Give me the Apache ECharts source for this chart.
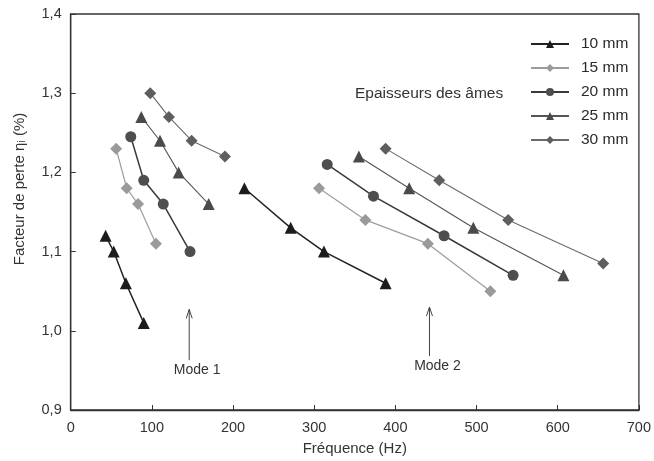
<!DOCTYPE html>
<html>
<head>
<meta charset="utf-8">
<script src="https://cdn.jsdelivr.net/npm/echarts@6/dist/echarts.min.js"></script>
<style>
  html, body { margin: 0; padding: 0; background: #fff; }
  #chart { width: 654px; height: 461px; }
</style>
</head>
<body>
<div id="chart"></div>
<script>
// Loss factor vs frequency for five core thicknesses; null splits mode 1 from mode 2.
const thicknessNames = ['10 mm', '15 mm', '20 mm', '25 mm', '30 mm'];

const freq10 = [43, 53, 68, 90, null, 214, 271, 312, 388];
const loss10 = [1.12, 1.10, 1.06, 1.01, null, 1.18, 1.13, 1.10, 1.06];

const freq15 = [56, 69, 83, 105, null, 306, 363, 440, 517];
const loss15 = [1.23, 1.18, 1.16, 1.11, null, 1.18, 1.14, 1.11, 1.05];

const freq20 = [74, 90, 114, 147, null, 316, 373, 460, 545];
const loss20 = [1.245, 1.19, 1.16, 1.10, null, 1.21, 1.17, 1.12, 1.07];

const freq25 = [87, 110, 133, 170, null, 355, 417, 496, 607];
const loss25 = [1.27, 1.24, 1.20, 1.16, null, 1.22, 1.18, 1.13, 1.07];

const freq30 = [98, 121, 149, 190, null, 388, 454, 539, 656];
const loss30 = [1.30, 1.27, 1.24, 1.22, null, 1.23, 1.19, 1.14, 1.085];

// Mode annotations: arrow foot/tip in data units, label under the arrow
const modeLabels = ['Mode 1', 'Mode 2'];
const modeFreq = [146, 442];
const modeArrowFrom = [0.963, 0.968];
const modeArrowTo = [1.027, 1.030];

const xTicks = [0, 100, 200, 300, 400, 500, 600, 700];

function pairs(xs, ys) {
  return xs.map((x, i) => (x === null ? [null, null] : [x, ys[i]]));
}

const styles = [
  { symbol: 'triangle', color: '#1c1c1c', line: '#222', width: 1.5 },
  { symbol: 'diamond', color: '#9a9a9a', line: '#9c9c9c', width: 1.2 },
  { symbol: 'circle', color: '#4e4e4e', line: '#3a3a3a', width: 1.5 },
  { symbol: 'triangle', color: '#4a4a4a', line: '#555', width: 1.1 },
  { symbol: 'diamond', color: '#5e5e5e', line: '#6a6a6a', width: 1.1 }
];

const seriesData = [
  pairs(freq10, loss10),
  pairs(freq15, loss15),
  pairs(freq20, loss20),
  pairs(freq25, loss25),
  pairs(freq30, loss30)
];

const chart = echarts.init(document.getElementById('chart'), null, { renderer: 'canvas' });

const FONT = 'Liberation Sans, Arial, sans-serif';
const fmt = v => v.toFixed(1).replace('.', ',');

chart.setOption({
  animation: false,
  backgroundColor: '#fff',
  textStyle: { fontFamily: FONT },
  title: {
    text: 'Epaisseurs des âmes',
    left: 350, top: 81,
    textStyle: { fontSize: 15.5, fontWeight: 'normal', color: '#333', fontFamily: FONT }
  },
  legend: {
    orient: 'vertical',
    left: 525, top: 31,
    itemWidth: 38, itemHeight: 10, itemGap: 8,
    data: thicknessNames,
    textStyle: { fontSize: 15.5, color: '#2a2a2a', fontFamily: FONT, padding: [0, 0, 0, 7] }
  },
  grid: {
    left: 70.7, right: 12.5, top: 14, bottom: 48.3,
    show: true, borderColor: '#333', borderWidth: 1.3, backgroundColor: 'transparent'
  },
  xAxis: {
    type: 'value', min: 0, max: 700, interval: 100,
    name: 'Fréquence (Hz)', nameLocation: 'middle', nameGap: 31,
    nameTextStyle: { fontSize: 15, color: '#333', fontFamily: FONT },
    axisLine: { show: true, lineStyle: { color: '#333', width: 1.3 } },
    axisTick: { show: true, inside: true, length: 5, lineStyle: { color: '#333' } },
    axisLabel: { fontSize: 14.5, color: '#333', margin: 10,
      formatter: v => (xTicks.includes(v) ? String(v) : '') },
    splitLine: { show: false }
  },
  yAxis: {
    type: 'value', min: 0.9, max: 1.4, interval: 0.1,
    axisLine: { show: true, lineStyle: { color: '#333', width: 1.3 } },
    axisTick: { show: true, inside: true, length: 5, lineStyle: { color: '#333' } },
    axisLabel: { fontSize: 14.5, color: '#333', margin: 9, formatter: fmt },
    splitLine: { show: false }
  },
  series: thicknessNames.map((name, i) => ({
    name,
    type: 'line',
    data: seriesData[i],
    connectNulls: false,
    symbol: styles[i].symbol,
    symbolSize: styles[i].symbol === 'circle' ? 11 : 12,
    showAllSymbol: true,
    itemStyle: { color: styles[i].color },
    lineStyle: { color: styles[i].line, width: styles[i].width }
  }))
});

// Draw the mode arrows, their labels and the rotated y-axis title
function drawAnnotations() {
  const elements = [];
  modeLabels.forEach((label, i) => {
    const from = chart.convertToPixel({ gridIndex: 0 }, [modeFreq[i], modeArrowFrom[i]]);
    const to = chart.convertToPixel({ gridIndex: 0 }, [modeFreq[i], modeArrowTo[i]]);
    elements.push({
      type: 'line',
      shape: { x1: from[0], y1: from[1], x2: to[0], y2: to[1] },
      style: { stroke: '#444', lineWidth: 1 }
    });
    elements.push({
      type: 'polyline',
      shape: { points: [[to[0] - 3, to[1] + 9], [to[0], to[1]], [to[0] + 3, to[1] + 9]] },
      style: { stroke: '#444', lineWidth: 1, fill: null }
    });
    elements.push({
      type: 'text',
      x: from[0] + 8, y: from[1] + 10,
      style: { text: label, fontSize: 14, fill: '#333', fontFamily: FONT,
        align: 'center', verticalAlign: 'middle' }
    });
  });
  elements.push({
    type: 'text',
    x: 20, y: 189,
    rotation: Math.PI / 2,
    style: { text: 'Facteur de perte ηᵢ (%)', fontSize: 15, fill: '#333',
      fontFamily: FONT, align: 'center', verticalAlign: 'middle' }
  });
  chart.setOption({ graphic: { elements } });
}
drawAnnotations();
</script>
</body>
</html>
